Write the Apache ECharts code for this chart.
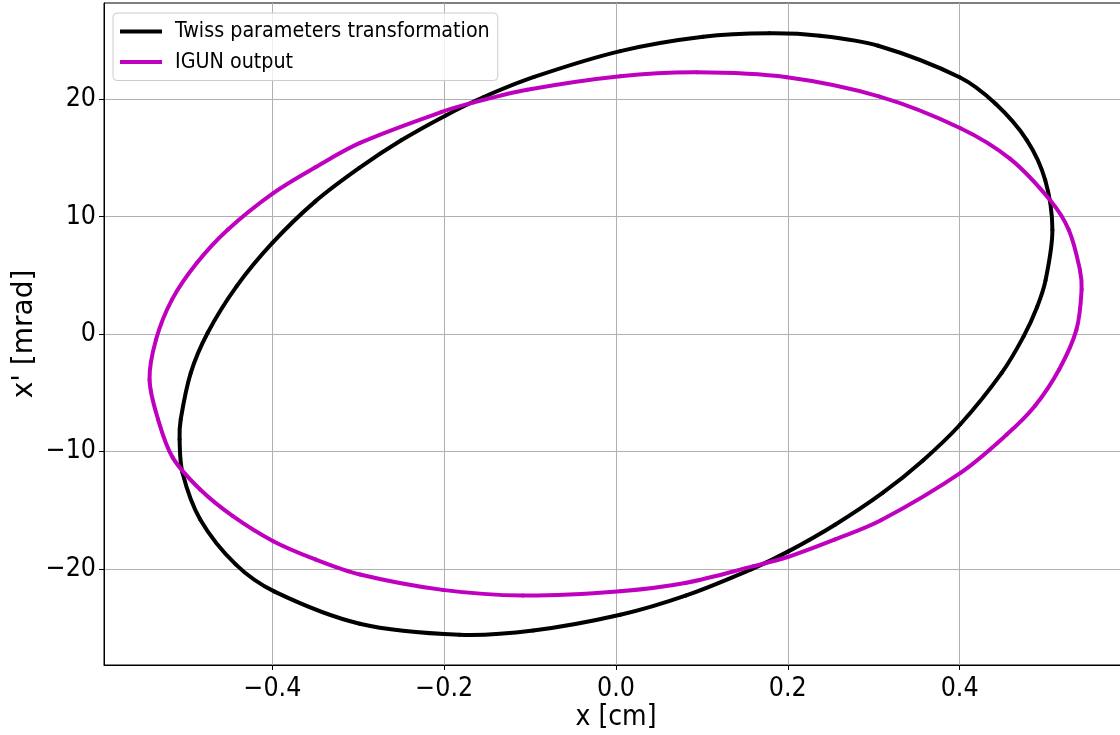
<!DOCTYPE html>
<html>
<head>
<meta charset="utf-8">
<script src="https://cdn.jsdelivr.net/npm/echarts@6/dist/echarts.min.js"></script>
<style>
html,body{margin:0;padding:0;background:#fff;}
#chart{width:1120px;height:735px;}
</style>
</head>
<body>
<div id="chart"></div>
<script>
const seriesNames = ['Twiss parameters transformation', 'IGUN output'];
const seriesColors = ['#000000', '#bf00bf'];
const xTicks = [-0.4, -0.2, 0.0, 0.2, 0.4];
const yTicks = [-20, -10, 0, 10, 20];

// closed curves: the last point connects back to the first
const twissX = [0.005, 0.1015, 0.1786, 0.2374, 0.3052, 0.400, 0.4419, 0.478, 0.4997, 0.508, 0.500, 0.4903, 0.4745, 0.4488, 0.4006, 0.357, 0.3103, 0.255, 0.2007, 0.158, 0.0818, 0.005, -0.0963, -0.1822, -0.2983, -0.3974, -0.4427, -0.484, -0.5047, -0.508, -0.5067, -0.495, -0.4754, -0.4415, -0.400, -0.350, -0.2992, -0.250, -0.1987, -0.1546, -0.0953];
const twissY = [24.10, 25.32, 25.62, 25.41, 24.56, 21.87, 19.61, 16.54, 13.10, 8.86, 4.57, 2.33, -0.20, -3.33, -7.71, -10.79, -13.54, -16.25, -18.52, -20.03, -22.27, -23.92, -25.26, -25.62, -24.68, -21.95, -19.63, -15.80, -11.80, -8.98, -7.28, -3.31, 0.09, 4.08, 7.76, 11.30, 14.13, 16.50, 18.60, 20.17, 21.90];

const igunX = [0.005, 0.0935, 0.199, 0.307, 0.401, 0.4585, 0.505, 0.527, 0.540, 0.542, 0.536, 0.516, 0.4876, 0.4548, 0.401, 0.3084, 0.255, 0.1998, 0.160, 0.082, 0.005, -0.1084, -0.2019, -0.298, -0.350, -0.399, -0.446, -0.484, -0.516, -0.533, -0.543, -0.5355, -0.517, -0.488, -0.452, -0.399, -0.350, -0.298, -0.2036, -0.1654, -0.1034];
const igunY = [21.96, 22.29, 21.87, 20.22, 17.53, 14.94, 11.43, 8.88, 5.47, 3.77, 0.37, -3.00, -6.13, -8.57, -11.83, -15.87, -17.50, -19.00, -19.78, -21.19, -21.91, -22.28, -21.80, -20.49, -19.20, -17.65, -15.52, -13.25, -10.53, -7.29, -3.89, -0.49, 2.91, 6.04, 8.88, 12.00, 14.20, 16.28, 18.90, 19.73, 20.81];

const zip = (a, b) => a.map((v, i) => [v, b[i]]);
const FONT = '"DejaVu Sans Condensed", "DejaVu Sans", sans-serif';
const FONT_V = '"DejaVu Sans", sans-serif';
const fmtX = v => (v < 0 ? '\u2212' : '') + Math.abs(v).toFixed(1);
const fmtY = v => (v < 0 ? '\u2212' : '') + Math.abs(Math.round(v));

// smooth closed curve through the data points, drawn segment by segment in pixel space
function closedCurveRenderer(xs, ys, color) {
  return function (params, api) {
    const n = xs.length;
    const i = params.dataIndex;
    const P = k => { const j = ((k % n) + n) % n; return api.coord([xs[j], ys[j]]); };
    const p0 = P(i - 1), p1 = P(i), p2 = P(i + 1), p3 = P(i + 2);
    const d = (a, b) => Math.hypot(b[0] - a[0], b[1] - a[1]) || 1e-6;
    const d01 = d(p0, p1), d12 = d(p1, p2), d23 = d(p2, p3);
    const k1 = d12 / (3 * (d01 + d12));
    const k2 = d12 / (3 * (d12 + d23));
    return {
      type: 'bezierCurve',
      shape: {
        x1: p1[0], y1: p1[1], x2: p2[0], y2: p2[1],
        cpx1: p1[0] + (p2[0] - p0[0]) * k1, cpy1: p1[1] + (p2[1] - p0[1]) * k1,
        cpx2: p2[0] - (p3[0] - p1[0]) * k2, cpy2: p2[1] - (p3[1] - p1[1]) * k2
      },
      style: {stroke: color, lineWidth: 4, fill: 'none', lineCap: 'round'},
      silent: true
    };
  };
}

const chart = echarts.init(document.getElementById('chart'), null, {renderer: 'canvas'});
chart.setOption({
  animation: false,
  backgroundColor: '#fff',
  grid: {
    left: 104, top: 3, width: 1024, height: 662,
    containLabel: false, outerBoundsMode: 'none',
    show: true, borderColor: '#000', borderWidth: 1, backgroundColor: 'transparent'
  },
  legend: {
    orient: 'vertical',
    left: 113, top: 13,
    padding: [8, 8, 8, 7],
    itemGap: 9.5,
    itemWidth: 42, itemHeight: 4,
    icon: 'rect',
    backgroundColor: 'rgba(255,255,255,0.8)',
    borderColor: '#cccccc', borderWidth: 1, borderRadius: 4,
    textStyle: {fontFamily: FONT, fontSize: 21.3, color: '#000', padding: [0, 0, 0, 8]},
    data: seriesNames
  },
  xAxis: {
    type: 'value', min: -0.596, max: 0.596,
    name: 'x [cm]', nameLocation: 'middle', nameGap: 39, nameMoveOverlap: false,
    nameTextStyle: {fontFamily: FONT, fontSize: 28, color: '#000'},
    axisLine: {show: true, onZero: false, lineStyle: {color: '#000', width: 1}},
    axisTick: {show: true, length: 5, lineStyle: {color: '#000'}, customValues: xTicks},
    axisLabel: {fontFamily: FONT, fontSize: 26.5, color: '#000', margin: 11, formatter: fmtX, customValues: xTicks},
    splitLine: {show: true, lineStyle: {color: '#b0b0b0', width: 1}}
  },
  yAxis: {
    type: 'value', min: -28.2, max: 28.2,
    name: "x' [mrad]", nameLocation: 'middle', nameGap: 65, nameMoveOverlap: false,
    nameTextStyle: {fontFamily: FONT_V, fontSize: 28, color: '#000'},
    axisLine: {show: true, onZero: false, lineStyle: {color: '#000', width: 1}},
    axisTick: {show: true, length: 5, lineStyle: {color: '#000'}, customValues: yTicks},
    axisLabel: {fontFamily: FONT, fontSize: 26.5, color: '#000', margin: 8, formatter: fmtY, customValues: yTicks},
    splitLine: {show: true, lineStyle: {color: '#b0b0b0', width: 1}}
  },
  series: [
    {
      name: seriesNames[0], type: 'custom', data: zip(twissX, twissY),
      encode: {x: 0, y: 1},
      itemStyle: {color: seriesColors[0]},
      renderItem: closedCurveRenderer(twissX, twissY, seriesColors[0])
    },
    {
      name: seriesNames[1], type: 'custom', data: zip(igunX, igunY),
      encode: {x: 0, y: 1},
      itemStyle: {color: seriesColors[1]},
      renderItem: closedCurveRenderer(igunX, igunY, seriesColors[1])
    }
  ]
});
</script>
</body>
</html>
